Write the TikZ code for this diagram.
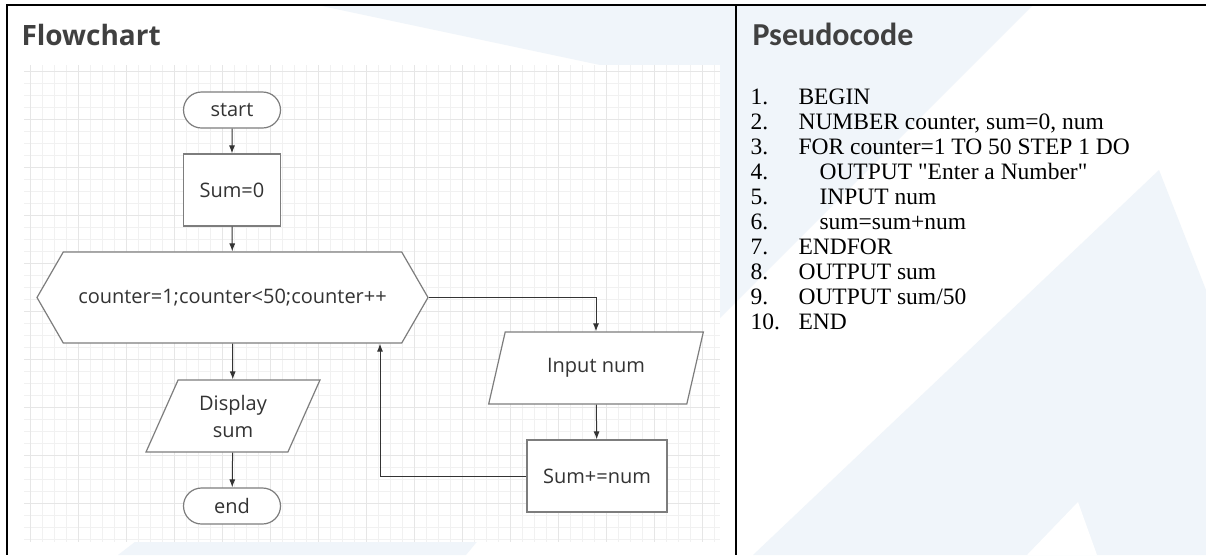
\documentclass[tikz,border=0pt]{standalone}
\usepackage{fontspec}
\setmainfont{Liberation Serif}[Ligatures=TeXOff]
\newfontfamily\chartfont{Open Sans}
\newfontfamily\headfont{Carlito}
\usetikzlibrary{arrows.meta,shapes.misc,shapes.geometric,shapes.symbols}
\definecolor{wmark}{RGB}{240,245,250}
\definecolor{gridmin}{RGB}{241,241,241}
\definecolor{gridmaj}{RGB}{230,230,230}
\definecolor{outl}{RGB}{125,125,125}
\definecolor{ink}{RGB}{51,51,51}
\definecolor{headgray}{RGB}{64,64,64}

\begin{document}
\begin{tikzpicture}[x=1pt, y=-1pt,
  every node/.style={font=\chartfont\fontsize{20}{27}\selectfont, text=ink},
  term/.style={rounded rectangle, draw=outl, line width=1.2pt, fill=white,
    minimum width=97pt, minimum height=36pt, inner sep=0pt},
  proc/.style={rectangle, draw=outl, line width=1.2pt, fill=white,
    minimum height=72pt, inner sep=0pt},
  io/.style={trapezium, trapezium left angle=65, trapezium right angle=115,
    trapezium stretches=true, draw=outl, line width=1.2pt, fill=white,
    minimum height=72pt, inner sep=0pt, align=center},
  loopbox/.style={signal, signal to=east and west, signal pointer angle=120,
    draw=outl, line width=1.2pt, fill=white, minimum width=391pt,
    minimum height=91pt, inner sep=0pt},
  flow/.style={draw=black!80, line width=1pt, -{Latex[length=8pt,width=6pt]}},
  frame/.style={line width=2.5pt, black},
  heading/.style={anchor=base west, text=headgray},
  codeline/.style={anchor=base west, text=black, font=\fontsize{23.5}{26}\selectfont}]
  \useasboundingbox (0,0) rectangle (1206,555);
  \fill[white] (0,0) rectangle (1206,555);
  % watermark shapes behind the table
  \fill[wmark] (317,5) -- (1033,5) -- (720,318) -- (600,65) -- cycle;
  \fill[wmark] (118,555) -- (140,538) -- (480,538) -- (466,555) -- cycle;
  \fill[wmark] (1159,170) -- (1206,290) -- (1206,555) -- (753,555) -- cycle;
  \fill[white] (1027,555) -- (1078,502) -- (1097,555) -- cycle;
  % grid paper
  \fill[white] (24,65) rectangle (720,542);
  \foreach \gx in {30,42,...,714} \draw[gridmin, line width=0.7pt] (\gx,65) -- (\gx,542);
  \foreach \gy in {71,83,...,539} \draw[gridmin, line width=0.7pt] (24,\gy) -- (720,\gy);
  \foreach \gx in {30,78,...,714} \draw[gridmaj, line width=0.8pt] (\gx,65) -- (\gx,542);
  \foreach \gy in {71,119,...,539} \draw[gridmaj, line width=0.8pt] (24,\gy) -- (720,\gy);
  % table rules
  \draw[frame] (6,5) -- (1206,5);
  \draw[frame] (7,4) -- (7,555);
  \draw[frame] (736,4) -- (736,555);
  % headings
  \node[heading, font=\chartfont\bfseries\fontsize{28}{30}\selectfont] (fchead) at (18,45) {Flowchart};
  \node[heading, font=\headfont\bfseries\fontsize{32}{36}\selectfont] (pchead) at (749,45) {Pseudocode};
  % flowchart
  \node[term] (start) at (232,110) {start};
  \node[proc, minimum width=97pt] (init) at (232,190) {Sum=0};
  \node[loopbox] (loop) at (232.5,297.5) {counter=1;counter<50;counter++};
  \node[io, minimum width=174pt] (show) at (233,416) {Display\\sum};
  \node[term] (stop) at (232,506) {end};
  \node[io, minimum width=215pt] (read) at (596,368) {Input num};
  \node[proc, minimum width=140pt] (add) at (597,476) {Sum+=num};
  \coordinate (ret) at (380,476);
  \draw[flow] (start) -- (init);
  \draw[flow] (init) -- (loop);
  \draw[flow] (loop.south) -- (show);
  \draw[flow] (show) -- (stop);
  \draw[flow] (loop.east) -| (read.north);
  \draw[flow] (read) -- (add);
  \draw[flow] (add.west) -- (ret) -- (ret |- loop.south);
  % pseudocode lines
  \foreach \i/\dx/\txt in {1/795/BEGIN, 2/795/{NUMBER counter, sum=0, num},
      3/795/{FOR counter=1 TO 50 STEP 1 DO},
      4/816/{OUTPUT "Enter a Number"},
      5/816/{INPUT num}, 6/816/{sum=sum+num}, 7/795/ENDFOR, 8/795/{OUTPUT sum},
      9/795/{OUTPUT sum/50}, 10/795/END} {
    \node[codeline] (n\i) at (747,{104+25*(\i-1)}) {\i.};
    \node[codeline] (l\i) at (\dx,{104+25*(\i-1)}) {\txt};
  }
\end{tikzpicture}
\end{document}
